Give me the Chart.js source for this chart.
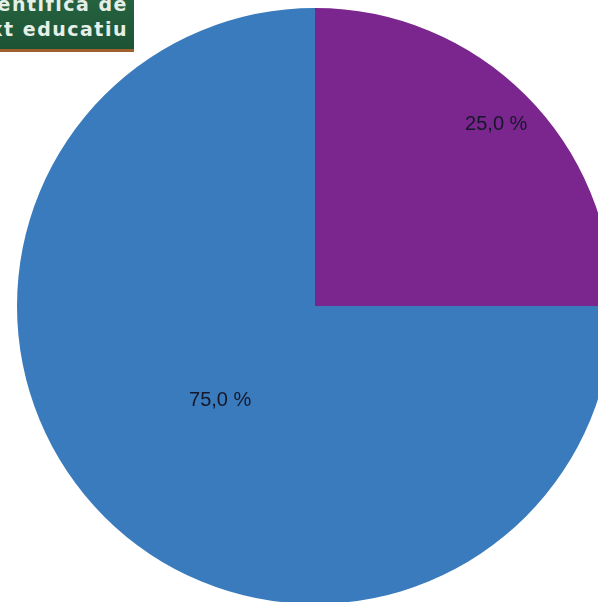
<!DOCTYPE html>
<html>
<head>
<meta charset="utf-8">
<script src="https://cdn.jsdelivr.net/npm/chart.js@4/dist/chart.umd.min.js"></script>
<style>
    html, body { margin: 0; padding: 0; background: #ffffff; overflow: hidden; width: 598px; height: 602px; }
    #wrap { position: absolute; left: 0; top: 0; width: 630px; height: 612px; }
    #badge {
        position: absolute; left: 0; top: 0; width: 134px; height: 52px;
        background: linear-gradient(#26623f, #1c5335);
        border-bottom: 3px solid #a0602e;
        color: #e6eee8; font-family: "DejaVu Sans", sans-serif; font-weight: bold;
        font-size: 19px; line-height: 25px; letter-spacing: 1.5px; overflow: hidden;
        box-sizing: border-box; padding-right: 6px; white-space: nowrap;
        display: flex; flex-direction: column; align-items: flex-end;
    }
</style>
</head>
<body>
<div id="wrap"><canvas id="pie-chart"></canvas></div>
<div id="badge"><div style="margin-top:-8px">científica de</div><div>Context educatiu</div></div>
<script>
// dades del gràfic
const categories = ["Sí", "No"];
const values = [25, 75];
const valueLabels = ["25,0 %", "75,0 %"];
const colors = ["#7b258f", "#3a7bbd"];

// etiquetes dins de cada porció
const sliceLabels = {
    id: "sliceLabels",
    afterDatasetsDraw: function (chart, args, opts) {
        const ctx = chart.ctx;
        const meta = chart.getDatasetMeta(0);
        ctx.save();
        ctx.font = "20px 'Liberation Sans', Arial, sans-serif";
        ctx.fillStyle = "#15182a";
        ctx.textAlign = "center";
        ctx.textBaseline = "middle";
        meta.data.forEach((arc, i) => {
            const mid = (arc.startAngle + arc.endAngle) / 2;
            const r = arc.outerRadius * opts.offsets[i];
            ctx.fillText(valueLabels[i], arc.x + Math.cos(mid) * r, arc.y + Math.sin(mid) * r);
        });
        ctx.restore();
    }
};

new Chart(document.getElementById("pie-chart"), {
    type: "pie",
    data: {
        labels: categories,
        datasets: [
            {
                data: values,
                backgroundColor: colors,
                borderWidth: 0,
            },
        ],
    },
    options: {
        responsive: true,
        maintainAspectRatio: false,
        animation: false,
        layout: { padding: 8 },
        plugins: {
            legend: { display: false },
            tooltip: { enabled: false },
            sliceLabels: { offsets: [0.86, 0.45] },
        },
    },
    plugins: [sliceLabels],
});
</script>
</body>
</html>
